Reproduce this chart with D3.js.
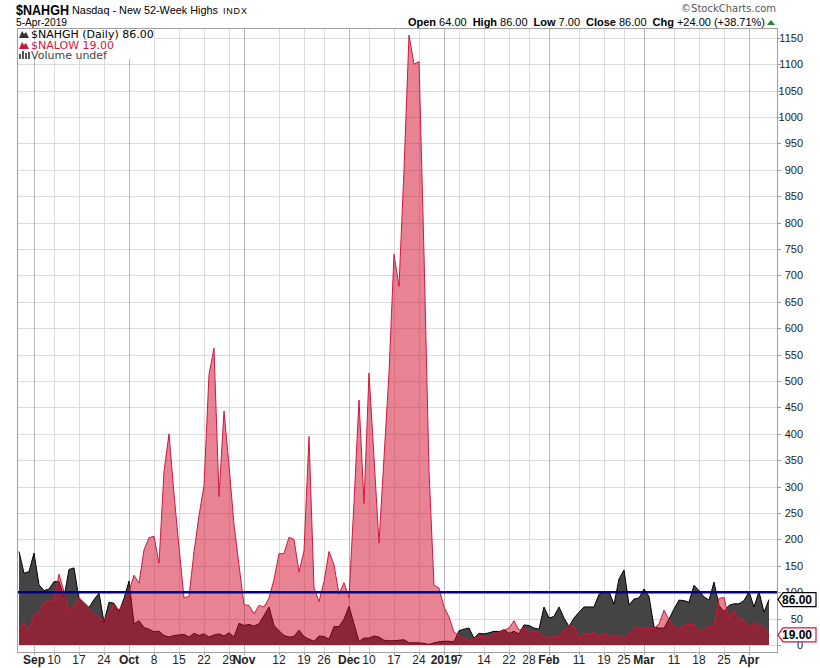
<!DOCTYPE html>
<html>
<head>
<meta charset="utf-8">
<script src="https://cdn.jsdelivr.net/npm/d3@7"></script>
<style>
  body { margin: 0; background: #fff; }
  svg { display: block; font-family: "Liberation Sans", Arial, sans-serif; }
</style>
</head>
<body>
<div id="chart"></div>
<script>
// $NAHGH daily values, 29-Aug-2018 .. 5-Apr-2019 (one per trading day)
var nahgh = [177,136,139,174,114,103,106,120,120,90,143,146,87,80,71,86,98,43,81,79,63,88,121,
  40,46,33,30,25,26,18,15,18,19,20,15,22,18,21,15,19,21,17,23,15,41,37,39,36,40,56,72,37,27,18,15,16,28,16,11,7,17,16,11,35,35,49,73,40,7,13,13,17,15,9,8,8,9,10,4,4,4,3,1,4,6,7,7,6,
  27,30,32,13,22,21,23,26,25,29,22,26,21,38,37,32,30,72,51,54,72,51,35,51,62,72,72,72,96,101,101,77,125,142,76,87,89,106,92,34,32,32,49,68,85,84,81,113,103,91,85,119,75,63,75,78,78,84,101,72,101,62,86];

// $NALOW daily values
var nalow = [27,41,27,57,63,80,84,85,134,101,66,74,90,80,70,60,52,47,62,77,66,80,101,
  132,117,180,203,206,155,328,400,286,185,89,92,176,245,302,512,562,281,443,340,228,151,76,75,59,75,72,89,124,173,173,204,200,138,178,395,108,82,120,177,152,96,118,90,270,464,268,515,355,193,355,515,740,679,900,1155,1100,1105,740,330,113,108,72,53,24,
  18,13,8,13,16,16,14,22,24,28,32,46,28,32,25,25,24,15,15,15,16,27,38,35,13,21,20,24,15,22,18,15,18,13,20,32,34,30,32,30,40,66,48,37,30,37,39,39,27,30,35,36,88,90,50,66,48,47,33,42,37,33,19];

var holidays = ["2018-09-03","2018-11-22","2018-12-05","2018-12-25","2019-01-01","2019-01-21","2019-02-18"];

var tickDates = ["2018-09-04","2018-09-10","2018-09-17","2018-09-24","2018-10-01","2018-10-08","2018-10-15","2018-10-22","2018-10-29",
  "2018-11-01","2018-11-12","2018-11-19","2018-11-26","2018-12-03","2018-12-10","2018-12-17","2018-12-24",
  "2019-01-02","2019-01-07","2019-01-14","2019-01-22","2019-01-28","2019-02-01","2019-02-11","2019-02-19","2019-02-25",
  "2019-03-01","2019-03-11","2019-03-18","2019-03-25","2019-04-01"];
var tickText = ["Sep","10","17","24","Oct","8","15","22","29","Nov","12","19","26","Dec","10","17","24",
  "2019","7","14","22","28","Feb","11","19","25","Mar","11","18","25","Apr"];

var yTicks = d3.range(0, 1151, 50);

var width = 820, height = 668;
var plotL = 17, plotR = 777, plotT = 28, plotB = 652;

var fmt = d3.timeFormat("%Y-%m-%d");
var days = d3.timeDay.range(new Date(2018, 7, 29), new Date(2019, 3, 6))
  .filter(function(d) { return d.getDay() % 6 !== 0 && holidays.indexOf(fmt(d)) < 0; });
var dayIndex = {};
days.forEach(function(d, i) { dayIndex[fmt(d)] = i; });

var x = d3.scaleLinear().domain([-0.4, days.length + 0.6]).range([plotL, plotR]);
var y = d3.scaleLinear().domain([-13.3, 1168.6]).range([plotB, plotT]);

var svg = d3.select("#chart").append("svg")
  .attr("width", width)
  .attr("height", height);

svg.append("defs").append("clipPath").attr("id", "plot")
  .append("rect").attr("x", plotL).attr("y", plotT).attr("width", plotR - plotL).attr("height", plotB - plotT);

// grid
var grid = svg.append("g");
grid.selectAll(".hg").data(yTicks).enter().append("line")
  .attr("x1", plotL).attr("x2", plotR)
  .attr("y1", function(d) { return Math.round(y(d)) + 0.5; })
  .attr("y2", function(d) { return Math.round(y(d)) + 0.5; })
  .attr("stroke", "#dcdcdc");

var isMajor = function(t) { return isNaN(+t) || t.length === 4; };

grid.selectAll(".vg").data(tickDates).enter().append("line")
  .attr("x1", function(d) { return Math.round(x(dayIndex[d])) + 0.5; })
  .attr("x2", function(d) { return Math.round(x(dayIndex[d])) + 0.5; })
  .attr("y1", plotT).attr("y2", plotB)
  .attr("stroke", function(d, i) { return isMajor(tickText[i]) ? "#b8b8b8" : "#dcdcdc"; });

// areas
var plot = svg.append("g").attr("clip-path", "url(#plot)");

var area = d3.area()
  .x(function(d, i) { return x(i); })
  .y0(y(0))
  .y1(function(d) { return y(d); });

var line = d3.line()
  .x(function(d, i) { return x(i); })
  .y(function(d) { return y(d); });

plot.append("path").datum(nahgh)
  .attr("d", area)
  .attr("fill", "#444444");
plot.append("path").datum(nahgh)
  .attr("d", line)
  .attr("fill", "none")
  .attr("stroke", "#000")
  .attr("stroke-width", 1);

plot.append("path").datum(nalow)
  .attr("d", area)
  .attr("fill", "rgb(210,8,42)")
  .attr("fill-opacity", 0.5);
plot.append("path").datum(nalow)
  .attr("d", line)
  .attr("fill", "none")
  .attr("stroke", "#d0163f")
  .attr("stroke-width", 1);

// 100 reference line
plot.append("line")
  .attr("x1", plotL).attr("x2", plotR)
  .attr("y1", y(100)).attr("y2", y(100))
  .attr("stroke", "#000080")
  .attr("stroke-width", 2.5);

// frame
svg.append("rect")
  .attr("x", plotL + 0.5).attr("y", plotT + 0.5)
  .attr("width", plotR - plotL).attr("height", plotB - plotT)
  .attr("fill", "none").attr("stroke", "#a0a0a0");

// x axis labels
var xa = svg.append("g");
xa.selectAll("line").data(tickDates).enter().append("line")
  .attr("x1", function(d) { return Math.round(x(dayIndex[d])) + 0.5; })
  .attr("x2", function(d) { return Math.round(x(dayIndex[d])) + 0.5; })
  .attr("y1", plotB).attr("y2", plotB + 3)
  .attr("stroke", "#a0a0a0");
xa.selectAll("text").data(tickDates).enter().append("text")
  .attr("x", function(d) { return x(dayIndex[d]); })
  .attr("y", 664)
  .attr("text-anchor", "middle")
  .attr("font-size", "12px")
  .attr("font-weight", function(d, i) { return isMajor(tickText[i]) ? "bold" : "normal"; })
  .attr("fill", "#222")
  .text(function(d, i) { return tickText[i]; });

// y axis labels (right)
var ya = svg.append("g");
ya.selectAll("line").data(yTicks).enter().append("line")
  .attr("x1", plotR).attr("x2", plotR + 4)
  .attr("y1", function(d) { return Math.round(y(d)) + 0.5; })
  .attr("y2", function(d) { return Math.round(y(d)) + 0.5; })
  .attr("stroke", "#a0a0a0");
ya.selectAll("text").data(yTicks).enter().append("text")
  .attr("x", 803)
  .attr("y", function(d) { return y(d) + 4; })
  .attr("text-anchor", "end")
  .attr("font-size", "11px")
  .attr("fill", "#222")
  .text(function(d) { return d; });

// last value boxes
function valueBox(v, color) {
  var cy = y(v);
  var g = svg.append("g");
  g.append("path")
    .attr("d", "M" + (plotR + 1) + "," + cy + " L" + (plotR + 6) + "," + (cy - 7) + " L816," + (cy - 7) +
      " L816," + (cy + 7) + " L" + (plotR + 6) + "," + (cy + 7) + "Z")
    .attr("fill", "#fff").attr("stroke", color).attr("stroke-width", 1.2);
  g.append("text")
    .attr("x", 812).attr("y", cy + 4.5)
    .attr("text-anchor", "end")
    .attr("font-size", "12px").attr("font-weight", "bold")
    .attr("fill", "#000")
    .text(v.toFixed(2));
}
valueBox(nahgh[nahgh.length - 1], "#000");
valueBox(nalow[nalow.length - 1], "#d0163f");

// legend
var lg = svg.append("g").attr("font-family", "'DejaVu Sans', Verdana, sans-serif").attr("font-size", "11px");
lg.append("rect").attr("x", plotL + 1).attr("y", plotT + 1).attr("width", 136).attr("height", 30).attr("fill", "#fff");
function mountain(g, x0, y0, color) {
  g.append("path")
    .attr("d", "M" + x0 + "," + y0 + " L" + (x0 + 3) + "," + (y0 - 7) + " L" + (x0 + 5) + "," + (y0 - 4) +
      " L" + (x0 + 7) + "," + (y0 - 6) + " L" + (x0 + 10) + "," + y0 + "Z")
    .attr("fill", color);
}
mountain(lg, 19, 38, "#333");
lg.append("text").attr("x", 31).attr("y", 38).attr("fill", "#000").text("$NAHGH (Daily) " + nahgh[nahgh.length - 1].toFixed(2));
mountain(lg, 19, 49, "#d0163f");
lg.append("text").attr("x", 31).attr("y", 49).attr("fill", "#d0163f").text("$NALOW " + nalow[nalow.length - 1].toFixed(2));
[0, 3, 6, 9].forEach(function(o, k) {
  var h = [5, 8, 6, 7][k];
  lg.append("rect").attr("x", 19 + o).attr("y", 59 - h).attr("width", 2).attr("height", h).attr("fill", "#555");
});
lg.append("text").attr("x", 31).attr("y", 59).attr("fill", "#444").text("Volume undef");

// header
var hd = svg.append("g");
hd.append("text").attr("x", 16).attr("y", 15)
  .attr("font-size", "15.5px").attr("font-weight", "bold")
  .attr("textLength", 53).attr("lengthAdjust", "spacingAndGlyphs")
  .text("$NAHGH");
hd.append("text").attr("x", 72).attr("y", 14).attr("font-size", "11.5px")
  .attr("textLength", 146).attr("lengthAdjust", "spacingAndGlyphs")
  .text("Nasdaq - New 52-Week Highs");
hd.append("text").attr("x", 223).attr("y", 14).attr("font-size", "9px")
  .attr("letter-spacing", "0.8px")
  .text("INDX");
hd.append("text").attr("x", 16).attr("y", 26).attr("font-size", "10.5px")
  .attr("textLength", 51).attr("lengthAdjust", "spacingAndGlyphs")
  .text("5-Apr-2019");
hd.append("text").attr("x", 776).attr("y", 12).attr("text-anchor", "end")
  .attr("font-family", "'DejaVu Sans', sans-serif").attr("font-size", "10px").attr("fill", "#555")
  .text("\u00A9StockCharts.com");

var ohlc = [["Open", "64.00"], ["High", "86.00"], ["Low", "7.00"], ["Close", "86.00"], ["Chg", "+24.00 (+38.71%)"]];
var t2 = hd.append("text").attr("x", 765).attr("y", 26).attr("text-anchor", "end").attr("font-size", "11px");
ohlc.forEach(function(p, i) {
  t2.append("tspan").attr("font-weight", "bold").attr("dx", i ? 6 : 0).text(p[0]);
  t2.append("tspan").attr("dx", 3).text(p[1]);
});
hd.append("path").attr("d", "M767,25 L771,20 L775,25 Z").attr("fill", "#1a8a2a");
</script>
</body>
</html>
